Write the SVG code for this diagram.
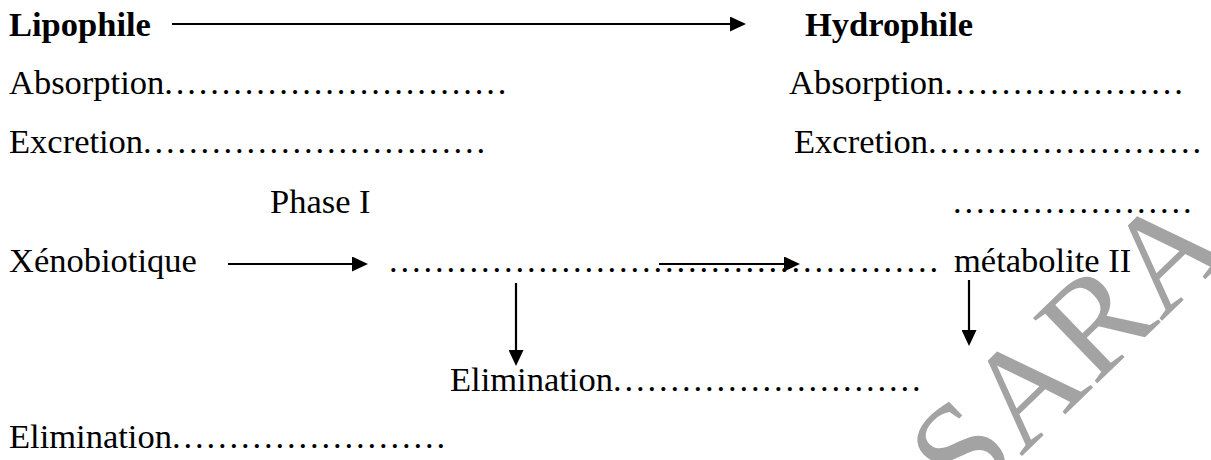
<svg xmlns="http://www.w3.org/2000/svg" width="1211" height="460" viewBox="0 0 1211 460">
<style>
  text { font-family: "Liberation Serif", "Times New Roman", serif; font-size: 34.5px; fill: #000; }
  .b { font-weight: bold; }
  .d { letter-spacing: 2.875px; }
  .wm { font-size: 140px; fill: #a3a3a3; }
  .conn line { stroke: #000; stroke-width: 2.2; }
</style>
<defs>
  <marker id="ah" markerUnits="userSpaceOnUse" markerWidth="16" markerHeight="15" refX="0" refY="7.5" orient="auto">
    <path d="M0,0 L16,7.5 L0,15 Z" fill="#000"/>
  </marker>
</defs>
<rect width="1211" height="460" fill="#fff"/>
<g id="watermark">
  <text class="wm" transform="translate(965,511) rotate(-44)">SARA</text>
</g>
<g id="lipophile"><text class="b" x="9" y="36">Lipophile</text></g>
<g id="hydrophile"><text class="b" x="805" y="36">Hydrophile</text></g>
<g id="absorption-left"><text x="9" y="94">Absorption<tspan class="d">..............................</tspan></text></g>
<g id="absorption-right"><text x="789" y="94">Absorption<tspan class="d">.....................</tspan></text></g>
<g id="excretion-left"><text x="9" y="153">Excretion<tspan class="d">..............................</tspan></text></g>
<g id="excretion-right"><text x="794" y="153">Excretion<tspan class="d">........................</tspan></text></g>
<g id="phase-i"><text x="270" y="213">Phase I</text></g>
<g id="blank-right"><text class="d" x="953" y="213">.....................</text></g>
<g id="xenobiotique"><text x="9" y="272">Xénobiotique</text></g>
<g id="metabolite-i"><text class="d" x="389" y="272">................................................</text></g>
<g id="metabolite-ii"><text x="954" y="272">métabolite II</text></g>
<g id="elimination-mid"><text x="450" y="391">Elimination<tspan class="d">...........................</tspan></text></g>
<g id="elimination-bottom"><text x="9" y="448">Elimination<tspan class="d">........................</tspan></text></g>
<g id="connectors" class="conn">
  <line x1="172" y1="24" x2="730" y2="24" marker-end="url(#ah)"/>
  <line x1="228" y1="264" x2="352" y2="264" marker-end="url(#ah)"/>
  <line x1="659" y1="264" x2="784" y2="264" marker-end="url(#ah)"/>
  <line x1="516" y1="283" x2="516" y2="350" marker-end="url(#ah)"/>
  <line x1="969" y1="280" x2="969" y2="330" marker-end="url(#ah)"/>
</g>
</svg>
